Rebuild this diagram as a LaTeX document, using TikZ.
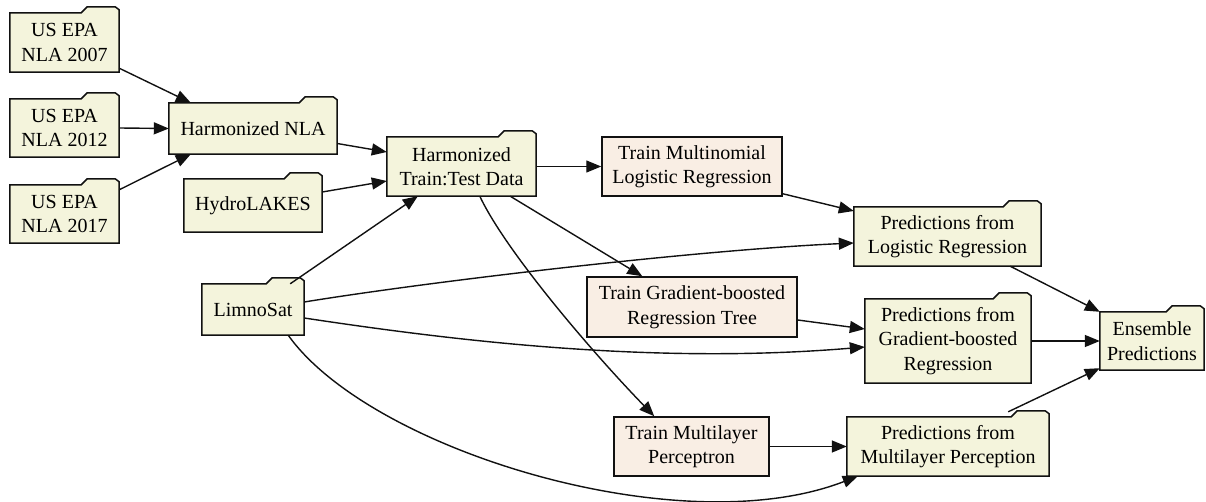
\documentclass[tikz,border=0pt]{standalone}
\usepackage{fontspec}
\setmainfont{Liberation Serif}
\usetikzlibrary{arrows.meta,calc,backgrounds}
\definecolor{foldfill}{HTML}{F4F4DC}
\definecolor{trainfill}{HTML}{F9EEE4}
\definecolor{edgecol}{HTML}{111111}
\newcommand{\nodefont}{\fontsize{20}{24.5}\selectfont}
\newcommand{\fdr}[1]{%
  \filldraw[fill=foldfill, draw=edgecol, line width=1.5pt, line join=miter]
    (#1.south west) -- (#1.north west) -- ($(#1.north east)+(-38,0)$)
    -- ($(#1.north east)+(-32,-6)$) -- ($(#1.north east)+(-4,-6)$)
    -- ($(#1.north east)+(0,-3)$) -- (#1.south east) -- cycle;}
\tikzset{
  fold/.style={rectangle, inner sep=0pt, align=center, font=\nodefont, text=black},
  trainbox/.style={rectangle, inner sep=0pt, align=center, font=\nodefont, text=black,
    draw=edgecol, fill=trainfill, line width=1.5pt},
  conn/.style={draw=edgecol, line width=1.4pt, -{Triangle[length=15pt,width=12pt]}},
}
\begin{document}
\begin{tikzpicture}[x=1pt,y=-1pt]
\useasboundingbox (0,0) rectangle (1206,502);
% folder nodes
\node[fold, minimum width=109pt, minimum height=59pt] (n07) at (64.5,42.5) {US EPA\\NLA 2007};
\node[fold, minimum width=109pt, minimum height=58pt] (n12) at (64.5,128) {US EPA\\NLA 2012};
\node[fold, minimum width=109pt, minimum height=58pt] (n17) at (64.5,214) {US EPA\\NLA 2017};
\node[fold, minimum width=168pt, minimum height=51pt] (hnla) at (253,128.5) {Harmonized NLA};
\node[fold, minimum width=138pt, minimum height=53pt] (hydro) at (253,205.5) {HydroLAKES};
\node[fold, minimum width=102pt, minimum height=51pt] (limno) at (253,309.5) {LimnoSat};
\node[fold, minimum width=149pt, minimum height=59pt] (httd) at (461.5,166.5) {Harmonized\\Train:Test Data};
\node[fold, minimum width=187pt, minimum height=59pt] (plr) at (947.5,236.5) {Predictions from\\Logistic Regression};
\node[fold, minimum width=166pt, minimum height=84pt] (pgbr) at (948,341) {Predictions from\\Gradient-boosted\\Regression};
\node[fold, minimum width=202pt, minimum height=59pt] (pmlp) at (948,446.5) {Predictions from\\Multilayer Perception};
\node[fold, minimum width=104pt, minimum height=58pt] (ens) at (1152,341) {Ensemble\\Predictions};
% train nodes
\node[trainbox, minimum width=180pt, minimum height=59pt] (tmlr) at (692,166.5) {Train Multinomial\\Logistic Regression};
\node[trainbox, minimum width=210pt, minimum height=60pt] (tgbrt) at (692,307) {Train Gradient-boosted\\Regression Tree};
\node[trainbox, minimum width=155pt, minimum height=59pt] (tmlp) at (691.5,446.5) {Train Multilayer\\Perceptron};
\begin{scope}[on background layer]
\fdr{n07}\fdr{n12}\fdr{n17}\fdr{hnla}\fdr{hydro}\fdr{limno}\fdr{httd}
\fdr{plr}\fdr{pgbr}\fdr{pmlp}\fdr{ens}
\end{scope}
% connectors
\draw[conn] ($(n07.south east)+(0,-4)$) -- ($(hnla.north west)+(22,0)$);
\draw[conn] (n12.east) -- (hnla.west);
\draw[conn] ($(n17.north east)+(0,5)$) -- ($(hnla.south west)+(22,0)$);
\draw[conn] ($(hnla.east)+(0,15)$) -- ($(httd.west)+(0,-14.5)$);
\draw[conn] ($(hydro.east)+(0,-13.5)$) -- ($(httd.west)+(0,14.5)$);
\draw[conn] ($(limno.north east)+(-14,0)$) -- ($(httd.south west)+(31,0)$);
\draw[conn] (httd.east) -- (tmlr.west);
\draw[conn] ($(httd.south east)+(-26,0)$) -- ($(tgbrt.north west)+(56,0)$);
\draw[conn] ($(httd.south west)+(93,0)$) .. controls (505,250) and (590,350) .. ($(tmlp.north west)+(41,0)$);
\draw[conn] ($(tmlr.south east)+(0,-3)$) -- ($(plr.west)+(0,-25.5)$);
\draw[conn] ($(limno.east)+(0,-7.5)$) .. controls (440,280) and (700,250) .. ($(plr.west)+(0,6.5)$);
\draw[conn] ($(tgbrt.east)+(0,13)$) -- ($(pgbr.west)+(0,-12)$);
\draw[conn] ($(limno.east)+(0,8.5)$) .. controls (450,340) and (650,365) .. ($(pgbr.west)+(0,6)$);
\draw[conn] ($(limno.south east)+(-16,0)$) .. controls (370,450) and (680,545) .. ($(pmlp.south west)+(11,0)$);
\draw[conn] (tmlp.east) -- (pmlp.west);
\draw[conn] ($(plr.south east)+(-31,0)$) -- (ens.north west);
\draw[conn] (pgbr.east) -- (ens.west);
\draw[conn] ($(pmlp.north east)+(-41,-5)$) -- ($(ens.south west)+(0,-2)$);
\end{tikzpicture}
\end{document}
